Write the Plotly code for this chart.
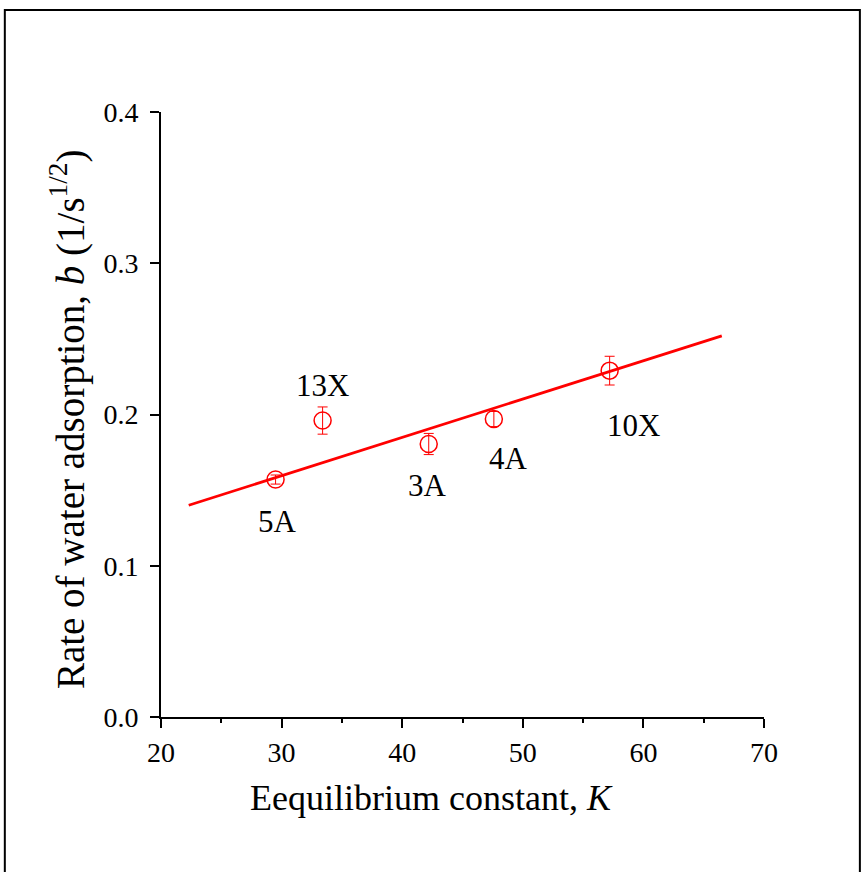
import plotly.graph_objects as go

# Data
samples = ["5A", "13X", "3A", "4A", "10X"]
K_vals = [29.5, 33.4, 42.2, 47.6, 57.2]
b_vals = [0.157, 0.196, 0.1805, 0.197, 0.229]
b_err = [0.003, 0.009, 0.007, 0.005, 0.0095]
fit_K = [22.3, 66.5]
fit_b = [0.140, 0.252]
label_K = [29.7, 33.4, 42.1, 48.8, 59.2]
label_b = [0.129, 0.219, 0.153, 0.171, 0.193]
x_ticks = [20, 30, 40, 50, 60, 70]
y_ticks = [0.0, 0.1, 0.2, 0.3, 0.4]
x_title = "Eequilibrium constant, <i>K</i>"
y_title = "Rate of water adsorption, <i>b</i> (1/s<sup>1/2</sup>)"

RED = "#ff0000"
FONT = "Liberation Serif, Times New Roman, serif"

fig = go.Figure()
fig.add_trace(go.Scatter(x=fit_K, y=fit_b, mode="lines",
                         line=dict(color=RED, width=2.8), showlegend=False))
fig.add_trace(go.Scatter(x=K_vals, y=b_vals, mode="markers",
                         marker=dict(symbol="circle-open", size=17, color=RED,
                                     line=dict(width=1.5, color=RED)),
                         error_y=dict(type="data", array=b_err, color=RED,
                                      thickness=1, width=5),
                         showlegend=False))

for s, kx, by in zip(samples, label_K, label_b):
    fig.add_annotation(x=kx, y=by, text=s, showarrow=False,
                       xanchor="center", yanchor="middle",
                       font=dict(family=FONT, size=31, color="black"))

# axis titles
fig.add_annotation(xref="paper", yref="paper", x=0.449, y=-0.134,
                   xanchor="center", yanchor="middle",
                   text=x_title, showarrow=False,
                   font=dict(family=FONT, size=36, color="black"))
fig.add_annotation(xref="paper", yref="paper", x=-0.154, y=0.4926,
                   xanchor="center", yanchor="middle",
                   text=y_title, showarrow=False, textangle=-90,
                   font=dict(family=FONT, size=39, color="black"))

# outer frame
fig.add_shape(type="rect", xref="paper", yref="paper",
              x0=-0.259, x1=1.159, y0=-0.28, y1=1.1686,
              line=dict(color="black", width=2), layer="below")

fig.update_layout(
    width=864, height=872,
    margin=dict(l=161, r=100, t=112, b=155),
    paper_bgcolor="white", plot_bgcolor="white",
    font=dict(family=FONT, size=28, color="black"),
    xaxis=dict(range=[20, 70], tickvals=x_ticks, ticks="outside", ticklen=9,
               tickwidth=2, tickcolor="black", showline=True, linewidth=2,
               linecolor="black", showgrid=False, zeroline=False,
               tickfont=dict(family=FONT, size=28),
               minor=dict(dtick=5, tick0=25, ticks="outside", ticklen=4,
                          tickwidth=1.5, tickcolor="black", showgrid=False)),
    yaxis=dict(range=[0, 0.4], tickvals=y_ticks, tickformat=".1f",
               ticks="outside", ticklen=9, tickwidth=2, tickcolor="black",
               showline=True, linewidth=2, linecolor="black", showgrid=False,
               zeroline=False, tickfont=dict(family=FONT, size=28),
               ticklabelstandoff=6),
)

fig.write_html("out.html", config={"displayModeBar": False},
               post_script="document.body.style.margin='0';")
